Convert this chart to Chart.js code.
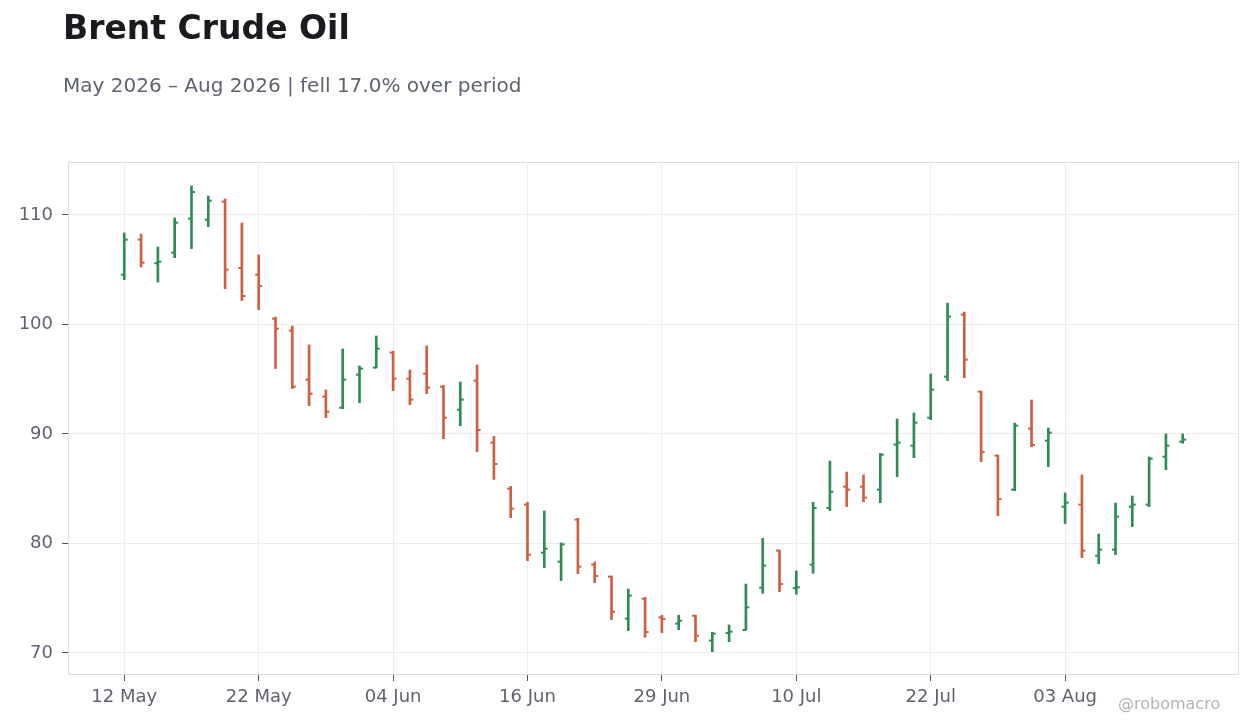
<!DOCTYPE html>
<html><head><meta charset="utf-8">
<script src="https://cdn.jsdelivr.net/npm/chart.js@4.4.1/dist/chart.umd.min.js"></script>
<style>
html,body{margin:0;padding:0;background:#fff;}
#wrap{position:relative;width:1260px;height:728px;overflow:hidden;background:#fff;font-family:"DejaVu Sans",sans-serif;}
#c{position:absolute;left:0;top:0;}
.t{position:absolute;white-space:nowrap;line-height:1;}
</style></head><body>
<div id="wrap">
<canvas id="c" width="1260" height="728"></canvas>
<div class="t" style="left:63px;top:11px;font-size:33px;font-weight:bold;color:#1b1b1f;">Brent Crude Oil</div>
<div class="t" style="left:63px;top:75px;font-size:20px;color:#5f6370;">May 2026 – Aug 2026 | fell 17.0% over period</div>
<div class="t" style="left:1118px;top:696px;font-size:16px;color:#b3b3b3;">@robomacro</div>
</div>
<script>
const dates = ["12 May","13 May","14 May","15 May","18 May","19 May","20 May","21 May","22 May",
"26 May","27 May","28 May","29 May","01 Jun","02 Jun","03 Jun","04 Jun",
"05 Jun","08 Jun","09 Jun","10 Jun","11 Jun","12 Jun","15 Jun","16 Jun",
"17 Jun","18 Jun","22 Jun","23 Jun","24 Jun","25 Jun","26 Jun","29 Jun",
"30 Jun","01 Jul","02 Jul","06 Jul","07 Jul","08 Jul","09 Jul","10 Jul",
"13 Jul","14 Jul","15 Jul","16 Jul","17 Jul","20 Jul","21 Jul","22 Jul",
"23 Jul","24 Jul","27 Jul","28 Jul","29 Jul","30 Jul","31 Jul","03 Aug",
"04 Aug","05 Aug","06 Aug","07 Aug","10 Aug","11 Aug","12 Aug"];
const opens = [104.55,107.75,105.60,106.56,109.66,109.57,111.22,105.16,104.55,
100.53,99.44,94.96,93.41,92.40,95.42,96.06,97.43,
95.05,95.51,94.32,92.22,94.87,89.21,85.01,83.55,
79.16,78.34,82.18,78.07,76.97,73.14,74.96,73.25,
72.68,73.40,71.13,71.82,72.10,75.97,79.35,75.92,
78.07,83.24,85.19,85.19,84.92,89.03,88.93,91.49,
95.24,100.90,93.87,88.02,84.92,90.49,89.39,83.36,
83.55,78.89,79.44,83.36,83.55,87.93,89.30];
const highs = [108.36,108.26,107.08,109.73,112.65,111.74,111.46,109.27,106.35,
100.68,99.86,98.13,94.02,97.76,96.21,98.95,97.55,
95.84,98.04,94.44,94.75,96.30,89.79,85.22,83.76,
82.97,80.05,82.30,78.31,77.03,75.84,75.08,73.44,
73.44,73.44,71.89,72.56,76.30,80.47,79.41,77.49,
83.76,87.53,86.53,86.26,88.23,91.37,91.92,95.48,
101.96,101.14,93.90,88.08,91.00,93.11,90.55,84.61,
86.26,80.87,83.70,84.34,87.90,90.00,90.00];
const lows = [104.09,105.25,103.88,106.10,106.93,108.93,103.27,102.18,101.35,
95.97,94.14,92.59,91.49,92.31,92.86,96.03,93.96,
92.68,93.68,89.57,90.76,88.39,85.86,82.36,78.43,
77.79,76.61,77.25,76.42,73.04,72.04,71.43,71.86,
72.13,71.03,70.12,71.03,72.10,75.45,75.60,75.36,
77.28,83.00,83.36,83.82,83.73,86.10,87.84,91.31,
94.87,95.14,87.47,82.54,84.82,88.84,87.02,81.81,
78.71,78.16,78.98,81.54,83.36,86.74,89.15];
const closes = [107.75,105.65,105.74,109.30,112.10,111.31,105.01,102.60,103.52,
99.62,94.32,93.68,92.04,94.96,95.97,97.79,95.05,
93.14,94.23,91.49,93.14,90.37,87.26,83.18,78.98,
79.53,79.92,77.88,77.03,73.77,75.24,71.92,73.10,
72.95,71.58,71.77,71.95,74.17,77.98,76.30,76.00,
83.24,84.73,84.92,84.19,88.11,89.21,91.03,94.05,
100.72,96.79,88.36,84.06,90.76,89.00,90.12,83.73,
79.35,79.44,82.45,83.55,87.75,88.93,89.48];
const xTickIdx = [0,8,16,24,32,40,48,56];
const yTickVals = [70,80,90,100,110];

const GREEN = '#2e8b57', RED = '#cc6140';
const colors = closes.map((c,i)=> c >= opens[i] ? GREEN : RED);
const LABEL = '#5f6370';

const ohlcTicks = {
  id:'ohlcTicks',
  beforeDatasetsDraw(chart){
    const {ctx, chartArea:a} = chart;
    ctx.save();
    ctx.strokeStyle = '#dcdcdc';
    ctx.lineWidth = 1;
    ctx.strokeRect(a.left+0.5, a.top+0.5, a.right-a.left-1, a.bottom-a.top-1);
    ctx.restore();
  },
  afterDatasetsDraw(chart){
    const {ctx, scales:{x,y}} = chart;
    ctx.save();
    opens.forEach((o,i)=>{
      const px = x.getPixelForValue(i);
      ctx.fillStyle = colors[i];
      ctx.fillRect(px-3.5, y.getPixelForValue(o)-1, 3.5, 2);
      ctx.fillRect(px, y.getPixelForValue(closes[i])-1, 3.5, 2);
    });
    ctx.restore();
  }
};

new Chart(document.getElementById('c'), {
  type:'bar',
  data:{datasets:[{
    data: dates.map((d,i)=>({x:i, y:[lows[i], highs[i]]})),
    backgroundColor: colors,
    borderWidth:0,
    barThickness:2,
    grouped:false
  }]},
  options:{
    responsive:false,
    animation:false,
    devicePixelRatio:1,
    layout:{padding:{top:162,right:21,left:0,bottom:0}},
    plugins:{legend:{display:false}, tooltip:{enabled:false}},
    scales:{
      x:{
        type:'linear', min:-3.35, max:66.35, offset:false,
        afterBuildTicks:s=>{ s.ticks = xTickIdx.map(v=>({value:v})); },
        afterFit:s=>{ s.height = 53; },
        ticks:{callback:v=>dates[v], color:LABEL, font:{family:'DejaVu Sans', size:18}, padding:6, maxRotation:0, autoSkip:false},
        grid:{color:'#ececec', tickColor:'#555', tickLength:6, drawTicks:true, offset:false},
        border:{display:false}
      },
      y:{
        type:'linear', min:67.99, max:114.84,
        afterBuildTicks:s=>{ s.ticks = yTickVals.map(v=>({value:v})); },
        afterFit:s=>{ s.width = 68; },
        ticks:{color:LABEL, font:{family:'DejaVu Sans', size:18}, padding:9},
        grid:{color:'#ececec', tickColor:'#555', tickLength:6, drawTicks:true},
        border:{display:false}
      }
    }
  },
  plugins:[ohlcTicks]
});
</script>
</body></html>
